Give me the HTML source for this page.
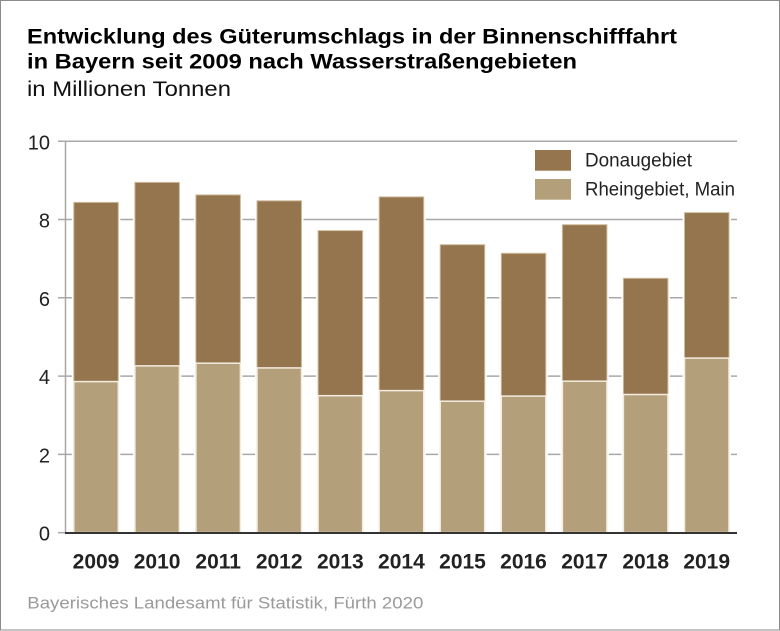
<!DOCTYPE html>
<html><head><meta charset="utf-8"><style>
html,body{margin:0;padding:0;background:#fff;}
svg{display:block;}
text{font-family:"Liberation Sans",Arial,sans-serif;}
</style></head><body>
<svg width="780" height="631" viewBox="0 0 780 631" xmlns="http://www.w3.org/2000/svg">
<rect x="0.5" y="0.5" width="779" height="629.5" fill="#fff" stroke="#8a8a8a" stroke-width="1"/>
<text x="27" y="43.3" font-size="21" font-weight="bold" fill="#000" textLength="650" lengthAdjust="spacingAndGlyphs">Entwicklung des Güterumschlags in der Binnenschifffahrt</text>
<text x="27" y="68.3" font-size="21" font-weight="bold" fill="#000" textLength="550" lengthAdjust="spacingAndGlyphs">in Bayern seit 2009 nach Wasserstraßengebieten</text>
<text x="27" y="96" font-size="21" fill="#111" textLength="204" lengthAdjust="spacingAndGlyphs">in Millionen Tonnen</text>
<g stroke="#a8a8a8" stroke-width="1.5">
<line x1="58" y1="141.2" x2="737" y2="141.2"/>
<line x1="58" y1="219.5" x2="737" y2="219.5"/>
<line x1="58" y1="297.8" x2="737" y2="297.8"/>
<line x1="58" y1="376.1" x2="737" y2="376.1"/>
<line x1="58" y1="454.4" x2="737" y2="454.4"/>
<line x1="58" y1="532.7" x2="65" y2="532.7"/>
<line x1="65.5" y1="141" x2="65.5" y2="533"/>
</g>
<g font-size="20" fill="#222" text-anchor="end">
<text x="50" y="149.5">10</text>
<text x="50" y="227.5">8</text>
<text x="50" y="305.8">6</text>
<text x="50" y="384.1">4</text>
<text x="50" y="462.4">2</text>
<text x="50" y="540.7">0</text>
</g>
<g stroke="#fff" stroke-width="3">
<rect x="73.3" y="201.9" width="45.5" height="330.8" fill="#95754e"/>
<rect x="134.4" y="181.9" width="45.5" height="350.8" fill="#95754e"/>
<rect x="195.4" y="194.4" width="45.5" height="338.3" fill="#95754e"/>
<rect x="256.5" y="200.3" width="45.5" height="332.4" fill="#95754e"/>
<rect x="317.6" y="230.1" width="45.5" height="302.6" fill="#95754e"/>
<rect x="378.7" y="196.4" width="45.5" height="336.3" fill="#95754e"/>
<rect x="439.7" y="244.2" width="45.5" height="288.5" fill="#95754e"/>
<rect x="500.8" y="252.8" width="45.5" height="279.9" fill="#95754e"/>
<rect x="561.9" y="224.2" width="45.5" height="308.5" fill="#95754e"/>
<rect x="622.9" y="277.8" width="45.5" height="254.9" fill="#95754e"/>
<rect x="684" y="212.1" width="45.5" height="320.6" fill="#95754e"/>
</g>
<g fill="#95754e" stroke="#cdbb9c" stroke-width="1">
<rect x="73.8" y="202.4" width="44.5" height="330"/>
<rect x="134.9" y="182.4" width="44.5" height="350"/>
<rect x="195.9" y="194.9" width="44.5" height="337.5"/>
<rect x="257" y="200.8" width="44.5" height="331.6"/>
<rect x="318.1" y="230.6" width="44.5" height="301.8"/>
<rect x="379.2" y="196.9" width="44.5" height="335.5"/>
<rect x="440.2" y="244.7" width="44.5" height="287.7"/>
<rect x="501.3" y="253.3" width="44.5" height="279.1"/>
<rect x="562.4" y="224.7" width="44.5" height="307.7"/>
<rect x="623.4" y="278.3" width="44.5" height="254.1"/>
<rect x="684.5" y="212.6" width="44.5" height="319.8"/>
</g>
<g fill="#b49f7b" stroke="#f3ece0" stroke-width="1.5">
<rect x="73.8" y="381.6" width="44.5" height="151"/>
<rect x="134.9" y="365.9" width="44.5" height="166.7"/>
<rect x="195.9" y="363.2" width="44.5" height="169.4"/>
<rect x="257" y="367.9" width="44.5" height="164.7"/>
<rect x="318.1" y="395.7" width="44.5" height="136.9"/>
<rect x="379.2" y="390.6" width="44.5" height="142"/>
<rect x="440.2" y="401.2" width="44.5" height="131.4"/>
<rect x="501.3" y="396.1" width="44.5" height="136.5"/>
<rect x="562.4" y="381.2" width="44.5" height="151.4"/>
<rect x="623.4" y="394.5" width="44.5" height="138.1"/>
<rect x="684.5" y="358.1" width="44.5" height="174.5"/>
</g>
<line x1="65" y1="533" x2="737" y2="533" stroke="#333" stroke-width="2"/>
<g font-size="21" font-weight="bold" fill="#222" text-anchor="middle">
<text x="96" y="568.3">2009</text>
<text x="157.1" y="568.3">2010</text>
<text x="218.2" y="568.3">2011</text>
<text x="279.2" y="568.3">2012</text>
<text x="340.3" y="568.3">2013</text>
<text x="401.4" y="568.3">2014</text>
<text x="462.5" y="568.3">2015</text>
<text x="523.5" y="568.3">2016</text>
<text x="584.6" y="568.3">2017</text>
<text x="645.7" y="568.3">2018</text>
<text x="706.7" y="568.3">2019</text>
</g>
<rect x="535" y="150" width="36" height="20.7" fill="#95754e"/>
<rect x="535" y="179" width="36" height="20.7" fill="#b49f7b"/>
<text x="585" y="166.7" font-size="19" fill="#222" textLength="107" lengthAdjust="spacingAndGlyphs">Donaugebiet</text>
<text x="585" y="195.7" font-size="19" fill="#222" textLength="150" lengthAdjust="spacingAndGlyphs">Rheingebiet, Main</text>
<text x="27.3" y="608.3" font-size="17" fill="#9a9a9a" textLength="396" lengthAdjust="spacingAndGlyphs">Bayerisches Landesamt für Statistik, Fürth 2020</text>
</svg>
</body></html>
